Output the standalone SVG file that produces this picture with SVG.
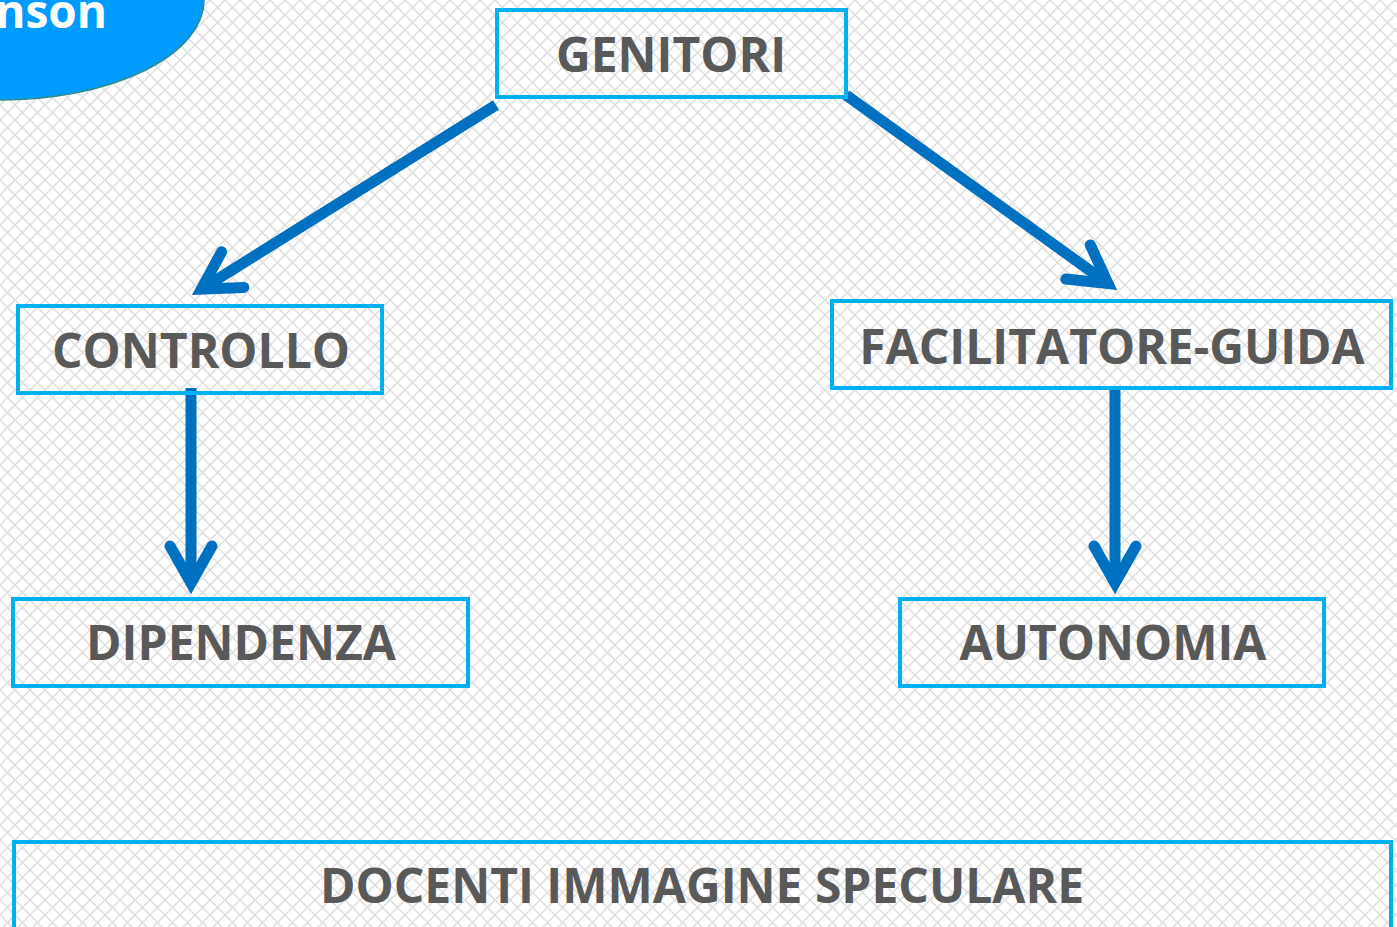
<svg xmlns="http://www.w3.org/2000/svg" width="1397" height="927" viewBox="0 0 1397 927">
  <defs>
    <pattern id="hatch" width="15" height="15" patternUnits="userSpaceOnUse">
      <rect width="15" height="15" fill="#ffffff"/>
      <path d="M0,0 L15,15 M15,0 L0,15" stroke="#dedede" stroke-width="1.5" fill="none"/>
    </pattern>
    <marker id="arrowhead" markerUnits="userSpaceOnUse" markerWidth="80" markerHeight="80" viewBox="-60 -40 80 80" refX="-14" refY="0" orient="auto">
      <path d="M-48,-21 L-11,0 L-48,21" fill="none" stroke="#0070c0" stroke-width="11" stroke-linecap="round" stroke-linejoin="miter" stroke-miterlimit="10"/>
    </marker>
    <style>
      .box { fill: none; stroke: #00b0f0; stroke-width: 4; }
      .label { font-family: "Open Sans", "Liberation Sans", sans-serif; font-weight: bold; font-size: 48px; fill: #595959; text-anchor: middle; }
      .conn { stroke: #0070c0; stroke-width: 11; fill: none; marker-end: url(#arrowhead); }
    </style>
  </defs>

  <rect width="1397" height="927" fill="url(#hatch)"/>

  <g id="title-ellipse">
    <ellipse cx="0" cy="0" rx="204" ry="100" fill="#009bff" stroke="#2e8b8b" stroke-width="1.5"/>
    <text x="107" y="28" font-family="Open Sans, Liberation Sans, sans-serif" font-weight="bold" font-size="46" fill="#ffffff" text-anchor="end">Johnson</text>
  </g>

  <g id="connectors">
    <line class="conn" x1="496" y1="105" x2="203.9" y2="287.6"/>
    <line class="conn" x1="846" y1="95" x2="1105.6" y2="281.8"/>
    <line class="conn" x1="191" y1="388" x2="191" y2="580"/>
    <line class="conn" x1="1115" y1="386" x2="1115" y2="580"/>
  </g>

  <g id="node-genitori">
    <rect class="box" x="497" y="10" width="349" height="87"/>
    <text class="label" x="671" y="72">GENITORI</text>
  </g>

  <g id="node-controllo">
    <rect class="box" x="18" y="306" width="364" height="87"/>
    <text class="label" x="201" y="368">CONTROLLO</text>
  </g>

  <g id="node-facilitatore">
    <rect class="box" x="832" y="301" width="559" height="87"/>
    <text class="label" x="1112" y="364">FACILITATORE-GUIDA</text>
  </g>

  <g id="node-dipendenza">
    <rect class="box" x="13" y="599" width="455" height="87"/>
    <text class="label" x="241" y="660">DIPENDENZA</text>
  </g>

  <g id="node-autonomia">
    <rect class="box" x="900" y="599" width="424" height="87"/>
    <text class="label" x="1113" y="660">AUTONOMIA</text>
  </g>

  <g id="node-docenti">
    <rect class="box" x="14" y="842" width="1377" height="100"/>
    <text class="label" x="702" y="903">DOCENTI IMMAGINE SPECULARE</text>
  </g>
</svg>
